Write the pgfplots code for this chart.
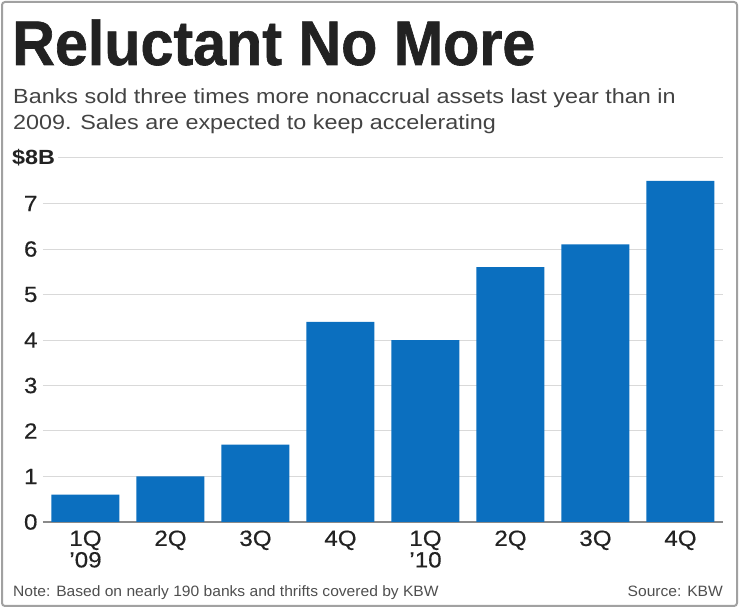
\documentclass[border=0pt]{standalone}
\usepackage{pgfplots}
\pgfplotsset{compat=1.18}
\usepackage{fontspec}
\setmainfont{Liberation Sans}
\newfontfamily\titlefont[FakeStretch=0.94, BoldFeatures={FakeBold=1}]{Liberation Sans}
\newfontfamily\widefont[FakeStretch=1.14]{Liberation Sans}
\newfontfamily\tickfont[FakeStretch=1.1, FakeBold=0.4]{Liberation Sans}
\newfontfamily\notefont[FakeStretch=1.04]{Liberation Sans}
\definecolor{barblue}{HTML}{0B6FBF}
\definecolor{gridgray}{HTML}{D9D9D9}
\definecolor{axisgray}{HTML}{8A8A8A}
\definecolor{ink}{HTML}{222222}
\begin{document}
\begin{tikzpicture}[x=1pt,y=1pt]
\useasboundingbox (0,0) rectangle (740,608);
\draw[axisgray!80, line width=2pt, rounded corners=3pt] (2,2) rectangle (737,606);

% titles
\node[anchor=base west, inner sep=0, text=ink] at (12,543)
  {\titlefont\bfseries\fontsize{63}{63}\selectfont Reluctant No More};
\node[anchor=base west, inner sep=0, text=ink!85] at (13,504)
  {\widefont\fontsize{20.5}{22}\selectfont Banks sold three times more nonaccrual assets last year than in};
\node[anchor=base west, inner sep=0, text=ink!85] at (13,478)
  {\widefont\fontsize{20.5}{22}\selectfont 2009. Sales are expected to keep accelerating};

% top gridline with unit label
\draw[gridgray, line width=1pt] (58,450) -- (723,450);
\node[anchor=west, inner sep=0, text=ink] at (12,450)
  {\widefont\fontsize{20.5}{22}\selectfont\bfseries \$8B};

\begin{axis}[
  at={(43pt,86pt)}, anchor=south west,
  scale only axis, width=680pt, height=364pt,
  xmin=-0.5, xmax=7.5, ymin=0, ymax=8,
  axis lines*=left,
  y axis line style={draw=none},
  x axis line style={axisgray, line width=1.5pt, -},
  ymajorgrids, grid style={gridgray, line width=1pt},
  ytick={0,1,2,3,4,5,6,7},
  major tick length=0pt,
  xtick=data,
  xticklabels={{1Q\\’09},2Q,3Q,4Q,{1Q\\’10},2Q,3Q,4Q},
  xticklabel style={align=center, text=ink, font=\tickfont\fontsize{22}{21.5}\selectfont, yshift=-5pt},
  yticklabel style={anchor=east, text=ink, font=\tickfont\fontsize{22}{21}\selectfont, xshift=-2pt},
  /pgf/number format/assume math mode=true,
  clip=false,
]
\addplot[ybar, bar width=68pt, fill=barblue, draw=none] coordinates {
  (0,0.6) (1,1.0) (2,1.7) (3,4.4) (4,4.0) (5,5.6) (6,6.1) (7,7.5)
};
\end{axis}

% footer
\node[anchor=base west, inner sep=0, text=ink!80] at (13,11)
  {\notefont\fontsize{15}{16}\selectfont Note: Based on nearly 190 banks and thrifts covered by KBW};
\node[anchor=base east, inner sep=0, text=ink!80] at (723,11)
  {\notefont\fontsize{15}{16}\selectfont Source: KBW};
\end{tikzpicture}
\end{document}
